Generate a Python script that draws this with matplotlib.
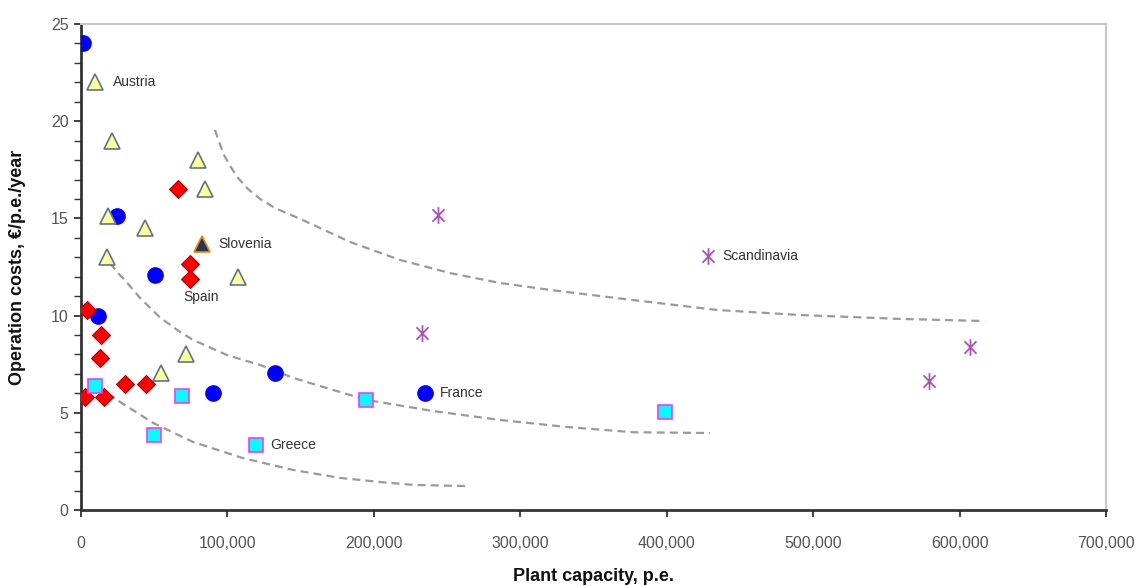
import matplotlib
matplotlib.use("Agg")
import matplotlib.pyplot as plt
from matplotlib.path import Path
from matplotlib.ticker import FuncFormatter, MultipleLocator

# ---- plant capacity (p.e.) and operation costs (EUR/p.e./year) per country group ----
france_x = [1400, 24600, 50500, 11600, 132500, 90000, 235000]
france_y = [24.0, 15.1, 12.1, 10.0, 7.05, 6.0, 6.0]

austria_x = [9600, 21000, 18400, 44000, 80000, 85000, 17800, 107000, 71700, 54600]
austria_y = [22.0, 19.0, 15.1, 14.5, 18.0, 16.5, 13.0, 12.0, 8.0, 7.05]

slovenia_x = [82600]
slovenia_y = [13.7]

spain_x = [66300, 74400, 74400, 4100, 13700, 13000, 2700, 15700, 30000, 44400]
spain_y = [16.5, 12.65, 11.9, 10.3, 9.0, 7.8, 5.8, 5.8, 6.5, 6.5]

greece_x = [9600, 69000, 50000, 119500, 194600, 399000]
greece_y = [6.4, 5.85, 3.85, 3.35, 5.65, 5.05]

scandinavia_x = [243800, 428000, 233000, 607000, 579000]
scandinavia_y = [15.2, 13.05, 9.1, 8.4, 6.65]

# ---- hand-drawn cost envelopes ----
upper_x = [91500, 94300, 97700, 101800, 107200, 114100, 122300, 132500, 149600,
           183700, 217900, 252000, 286000, 320300, 377000, 434400, 491000, 559400, 617000]
upper_y = [19.55, 18.93, 18.26, 17.70, 17.08, 16.51, 16.0, 15.53, 14.98,
           13.79, 12.86, 12.19, 11.68, 11.32, 10.8, 10.29, 10.03, 9.83, 9.72]

middle_x = [19800, 25300, 31400, 40300, 54000, 67600, 76500, 99700, 122300, 144800,
            170100, 195300, 240400, 286200, 331900, 377000, 429600]
middle_y = [12.7, 12.19, 11.7, 10.91, 9.9, 9.16, 8.75, 7.97, 7.46, 6.8,
            6.22, 5.66, 5.09, 4.63, 4.27, 4.0, 3.96]

lower_x = [18400, 24600, 49200, 76500, 110600, 144800, 177000, 204200, 226800, 265700]
lower_y = [6.0, 5.66, 4.48, 3.5, 2.67, 2.06, 1.65, 1.44, 1.29, 1.23]

x_ticks = [0, 100000, 200000, 300000, 400000, 500000, 600000, 700000]
y_ticks = [0, 5, 10, 15, 20, 25]

plt.rcParams["font.family"] = ["Liberation Sans", "DejaVu Sans"]

fig = plt.figure(figsize=(11.41, 5.86), dpi=100)
ax = fig.add_axes([81 / 1141, 1 - 510 / 586, 1025 / 1141, 486 / 586])

# envelopes
for cx, cy in [(upper_x, upper_y), (middle_x, middle_y), (lower_x, lower_y)]:
    ax.plot(cx, cy, color="#9a9a9a", lw=1.6, ls=(0, (3.6, 2.3)), zorder=1,
            solid_joinstyle="round", dash_joinstyle="round")

# Excel-style asterisk: vertical stroke plus an X
star_path = Path(
    [(0, -1), (0, 1), (-0.72, -0.75), (0.72, 0.75), (-0.72, 0.75), (0.72, -0.75)],
    [Path.MOVETO, Path.LINETO, Path.MOVETO, Path.LINETO, Path.MOVETO, Path.LINETO],
)

ax.plot(france_x, france_y, ls="none", marker="o", ms=11, mfc="#0000ff",
        mec="#0000ff", zorder=3)
ax.plot(austria_x, austria_y, ls="none", marker="^", ms=12, mfc="#ffff99",
        mec="#5a7590", mew=1.2, zorder=4)
ax.plot(slovenia_x, slovenia_y, ls="none", marker="^", ms=12, mfc="#1f3a60",
        mec="#ff8000", mew=1.2, zorder=4)
ax.plot(spain_x, spain_y, ls="none", marker="D", ms=9, mfc="#ff0000",
        mec="#b00000", mew=0.8, zorder=4)
ax.plot(greece_x, greece_y, ls="none", marker="s", ms=10.5, mfc="#00ffff",
        mec="#ff33ff", mew=1.2, zorder=4)
ax.plot(scandinavia_x, scandinavia_y, ls="none", marker=star_path, ms=12,
        mfc="none", mec="#b050c0", mew=1.3, zorder=4)

# group labels
label_kw = dict(textcoords="offset pixels", fontsize=10, color="#333333",
                va="center", ha="left", zorder=5)
ax.annotate("Austria", xy=(austria_x[0], austria_y[0]), xytext=(18, 0), **label_kw)
ax.annotate("Slovenia", xy=(slovenia_x[0], slovenia_y[0]), xytext=(16, 0), **label_kw)
ax.annotate("Spain", xy=(spain_x[2], spain_y[2]), xytext=(-7, -18), **label_kw)
ax.annotate("France", xy=(france_x[6], france_y[6]), xytext=(15, 0), **label_kw)
ax.annotate("Greece", xy=(greece_x[3], greece_y[3]), xytext=(14, 0), **label_kw)
ax.annotate("Scandinavia", xy=(scandinavia_x[1], scandinavia_y[1]), xytext=(15, 0),
            **label_kw)

ax.set_xlim(0, 700000)
ax.set_ylim(0, 25)
ax.set_xticks(x_ticks)
ax.set_yticks(y_ticks)
ax.yaxis.set_minor_locator(MultipleLocator(1))
ax.xaxis.set_major_formatter(FuncFormatter(lambda v, p: f"{int(v):,}"))

ax.tick_params(axis="both", which="major", direction="out", length=5, width=1.3,
               color="#333333", labelcolor="#555555", labelsize=11.5)
ax.tick_params(axis="x", pad=14)
ax.tick_params(axis="y", pad=4)
ax.tick_params(axis="y", which="minor", direction="out", length=5, width=1.0,
               color="#333333")

for side in ("left", "bottom"):
    ax.spines[side].set_color("#333333")
    ax.spines[side].set_linewidth(2.0)
for side in ("top", "right"):
    ax.spines[side].set_color("#c8c8c8")
    ax.spines[side].set_linewidth(1.5)

ax.set_xlabel("Plant capacity, p.e.", fontsize=13, fontweight="bold",
              color="#111111", labelpad=12)
ax.set_ylabel("Operation costs, €/p.e./year", fontsize=13, fontweight="bold",
              color="#111111", labelpad=18)

fig.savefig("out.png", dpi=100, facecolor="white")
